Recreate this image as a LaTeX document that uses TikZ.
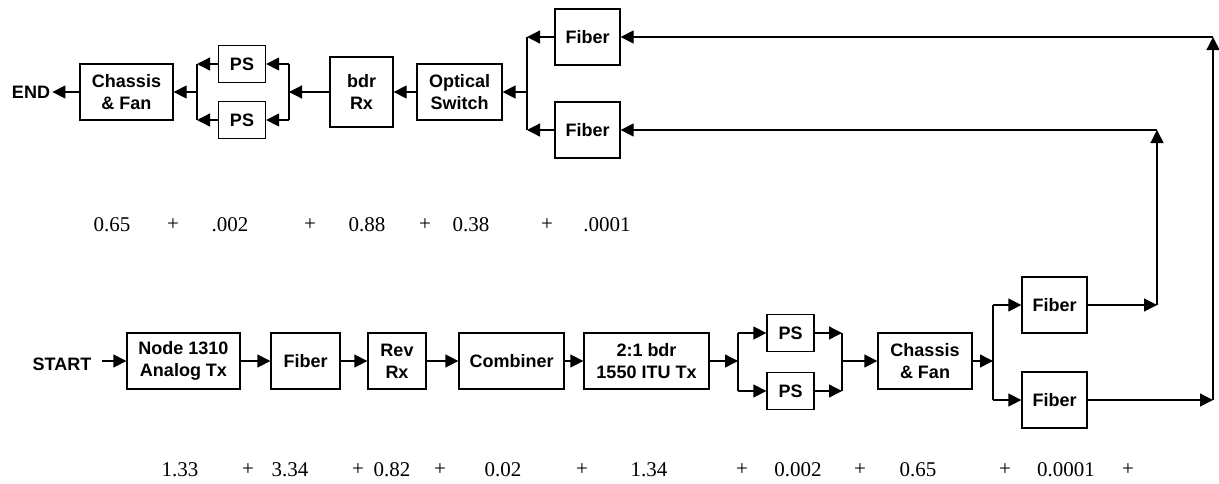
\documentclass[tikz,border=0pt]{standalone}
\usepackage{fontspec}
\setmainfont{Liberation Serif}
\setsansfont{Liberation Sans}
\usetikzlibrary{arrows.meta}

\begin{document}
\begin{tikzpicture}[x=0.5pt, y=-0.5pt,
    blk/.style={draw, line width=0.65pt, align=center, inner sep=0pt, minimum height=28pt, font=\sffamily\bfseries\fontsize{9}{11}\selectfont},
    psbox/.style={blk, minimum width=23.5pt, minimum height=18.5pt},
    fib/.style={blk, minimum width=32.5pt},
    lbl/.style={inner sep=1pt, font=\sffamily\bfseries\fontsize{9}{11}\selectfont},
    num/.style={inner sep=1pt, font=\fontsize{10.5}{12}\selectfont},
    arr/.style={-{Triangle[length=6.5pt,width=6.5pt]}, line width=0.65pt},
    bus/.style={line width=0.65pt}]
  \useasboundingbox (0,0) rectangle (1219,483);

  % Return chain (top)
  \node[lbl] (end) at (31,92) {END};
  \node[blk, minimum width=46.5pt] (chT) at (126.5,92) {Chassis\\\& Fan};
  \node[psbox] (psT1) at (242,64) {PS};
  \node[psbox] (psT2) at (242,120) {PS};
  \node[blk, minimum width=31.5pt, minimum height=35pt] (rx) at (361.5,92) {bdr\\Rx};
  \node[blk, minimum width=42.5pt] (osw) at (459.5,92) {Optical\\Switch};
  \node[fib] (fbT1) at (587.5,37) {Fiber};
  \node[fib] (fbT2) at (587.5,130) {Fiber};

  \coordinate (jA) at (197,92);  \coordinate (jA1) at (197,64);  \coordinate (jA2) at (197,120);
  \coordinate (jB) at (289,92);  \coordinate (jB1) at (289,64);  \coordinate (jB2) at (289,120);
  \coordinate (jC) at (527,92);  \coordinate (jC1) at (527,37);  \coordinate (jC2) at (527,130);

  \draw[arr] (chT) -- (end);
  \draw[bus] (jA1) -- (jA2);
  \draw[arr] (jA) -- (chT);
  \draw[arr] (psT1) -- (jA1);
  \draw[arr] (psT2) -- (jA2);
  \draw[bus] (jB1) -- (jB2);
  \draw[arr] (jB1) -- (psT1);
  \draw[arr] (jB2) -- (psT2);
  \draw[arr] (rx) -- (jB);
  \draw[arr] (osw) -- (rx);
  \draw[bus] (jC1) -- (jC2);
  \draw[arr] (jC) -- (osw);
  \draw[arr] (fbT1) -- (jC1);
  \draw[arr] (fbT2) -- (jC2);

  % Forward chain (bottom)
  \node[lbl] (start) at (62,364) {START};
  \node[blk, minimum width=56.5pt] (tx) at (183.5,361) {Node 1310\\Analog Tx};
  \node[blk, minimum width=34.5pt] (fbB0) at (305.5,361) {Fiber};
  \node[blk, minimum width=29pt] (rev) at (397,361) {Rev\\Rx};
  \node[blk, minimum width=52.5pt] (comb) at (511.5,361) {Combiner};
  \node[blk, minimum width=62.5pt] (itu) at (646.5,361) {2:1 bdr\\1550 ITU Tx};
  \node[psbox] (psB1) at (790.5,333) {PS};
  \node[psbox] (psB2) at (790.5,391) {PS};
  \node[blk, minimum width=47pt] (chB) at (925,361) {Chassis\\\& Fan};
  \node[fib] (fbB1) at (1054.5,305) {Fiber};
  \node[fib] (fbB2) at (1054.5,400) {Fiber};

  \coordinate (jD) at (738,361);  \coordinate (jD1) at (738,333);  \coordinate (jD2) at (738,391);
  \coordinate (jE) at (842,361);  \coordinate (jE1) at (842,333);  \coordinate (jE2) at (842,391);
  \coordinate (jF) at (993,361);  \coordinate (jF1) at (993,305);  \coordinate (jF2) at (993,400);

  \draw[arr] ([xshift=4pt]start.east |- tx.west) -- (tx.west);
  \draw[arr] (tx) -- (fbB0);
  \draw[arr] (fbB0) -- (rev);
  \draw[arr] (rev) -- (comb);
  \draw[arr] (comb) -- (itu);
  \draw[arr] (itu) -- (jD);
  \draw[bus] (jD1) -- (jD2);
  \draw[arr] (jD1) -- (psB1);
  \draw[arr] (jD2) -- (psB2);
  \draw[arr] (psB1) -- (jE1);
  \draw[arr] (psB2) -- (jE2);
  \draw[bus] (jE1) -- (jE2);
  \draw[arr] (jE) -- (chB);
  \draw[arr] (chB) -- (jF);
  \draw[bus] (jF1) -- (jF2);
  \draw[arr] (jF1) -- (fbB1);
  \draw[arr] (jF2) -- (fbB2);

  % Loop back to the top
  \coordinate (k1) at (1157,305);  \coordinate (k2) at (1157,130);
  \coordinate (k3) at (1213,400);  \coordinate (k4) at (1213,37);
  \draw[arr] (fbB1) -- (k1);
  \draw[arr] (k1) -- (k2);
  \draw[arr] (k2) -- (fbT2);
  \draw[arr] (fbB2) -- (k3);
  \draw[arr] (k3) -- (k4);
  \draw[arr] (k4) -- (fbT1);

  % Sums
  \foreach \x/\t [count=\i] in {112/0.65, 173/+, 230/.002, 310/+, 367/0.88, 425/+, 471/0.38, 547/+, 607/.0001}
    \node[num] (nT\i) at (\x,225) {\t};
  \foreach \x/\t [count=\i] in {180/1.33, 248/+, 290/3.34, 358/+, 392/0.82, 440/+, 503/0.02, 582/+, 649/1.34, 742/+, 798/0.002, 860/+, 918/0.65, 1005/+, 1066/0.0001, 1128/+}
    \node[num] (nB\i) at (\x,470) {\t};
\end{tikzpicture}
\end{document}
